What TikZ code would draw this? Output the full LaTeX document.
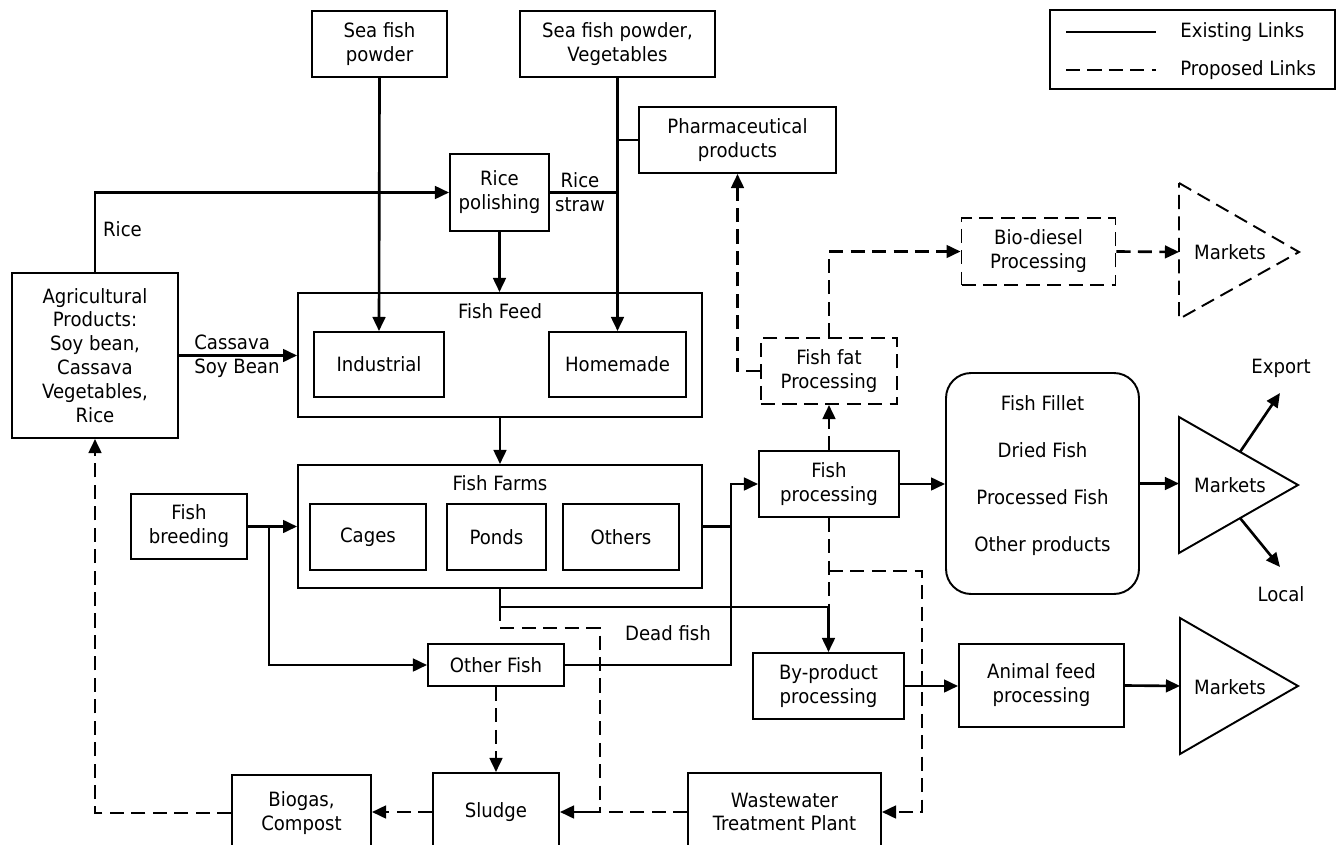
\documentclass[tikz,border=0pt]{standalone}
\usepackage{fontspec}
\setmainfont{DejaVu Sans}[FakeStretch=0.92]
\usetikzlibrary{arrows.meta}
\begin{document}
\begin{tikzpicture}[x=0.02cm,y=-0.02cm,
  font=\fontsize{11.2pt}{13.6pt}\selectfont,
  box/.style={draw, line width=1.1pt, align=center, inner sep=0pt},
  txt/.style={align=center, inner sep=0pt},
  dsh/.style={dash pattern=on 8pt off 4.2pt},
  ln/.style={line width=1.5pt},
  arr/.style={ln, -{Triangle[length=8pt,width=7.2pt]}},
  dln/.style={ln, dsh},
  darr/.style={arr, dsh},
]
\useasboundingbox (0,0) rectangle (1336,845);
\clip (0,0) rectangle (1336,845);

% ---------- boxes ----------
\node[box, minimum width=2.70cm, minimum height=1.32cm] (sfp) at (379.5,44) {Sea fish\\powder};
\node[box, minimum width=3.90cm, minimum height=1.32cm] (sfv) at (617.5,44) {Sea fish powder,\\Vegetables};
\node[box, minimum width=3.94cm, minimum height=1.32cm] (pharma) at (737.5,140) {Pharmaceutical\\products};
\node[box, minimum width=1.98cm, minimum height=1.54cm] (rice) at (499.5,192.5) {Rice\\polishing};
\node[box, minimum width=3.32cm, minimum height=3.30cm] (agri) at (95,355.5) {Agricultural\\Products:\\Soy bean,\\Cassava\\Vegetables,\\Rice};

\node[box, minimum width=8.08cm, minimum height=2.48cm] (feed) at (500,355) {};
\node[txt] (feedlbl) at (500,311) {Fish Feed};
\node[box, minimum width=2.60cm, minimum height=1.30cm] (ind) at (379,364.5) {Industrial};
\node[box, minimum width=2.74cm, minimum height=1.30cm] (home) at (617.5,364.5) {Homemade};

\node[box, minimum width=8.08cm, minimum height=2.46cm] (farms) at (500,526.5) {};
\node[txt] (farmslbl) at (500,483) {Fish Farms};
\node[box, minimum width=2.32cm, minimum height=1.32cm] (cages) at (368,537) {Cages};
\node[box, minimum width=1.98cm, minimum height=1.32cm] (ponds) at (496.5,537) {Ponds};
\node[box, minimum width=2.32cm, minimum height=1.32cm] (others) at (621,537) {Others};

\node[box, minimum width=2.32cm, minimum height=1.30cm] (breed) at (189,526.5) {Fish\\breeding};
\node[box, minimum width=2.72cm, minimum height=0.84cm] (ofish) at (496,665) {Other Fish};

\node[box, minimum width=2.80cm, minimum height=1.32cm] (proc) at (829,484) {Fish\\processing};
\node[box, dsh, minimum width=2.72cm, minimum height=1.32cm] (fat) at (829,371) {Fish fat\\Processing};
\node[box, dsh, minimum width=3.08cm, minimum height=1.34cm] (bio) at (1038.5,251.5) {Bio-diesel\\Processing};

\node[box, rounded corners=0.5cm, minimum width=3.86cm, minimum height=4.42cm] (fillet) at (1042.5,483.5) {};
\node[txt] (fillettxt) at (1042.5,475.5) {Fish Fillet\\[13pt]Dried Fish\\[13pt]Processed Fish\\[13pt]Other products};

\node[box, minimum width=3.02cm, minimum height=1.32cm] (byp) at (828.5,686) {By-product\\processing};
\node[box, minimum width=3.30cm, minimum height=1.66cm] (animal) at (1041.5,685.5) {Animal feed\\processing};

\node[box, minimum width=3.86cm, minimum height=1.56cm] (wwtp) at (784.5,812) {Wastewater\\Treatment Plant};
\node[box, minimum width=2.52cm, minimum height=1.56cm] (sludge) at (496,812) {Sludge};
\node[box, minimum width=2.78cm, minimum height=1.52cm] (biogas) at (301.5,813) {Biogas,\\Compost};

% ---------- markets ----------
\draw[line width=1.1pt, dsh] (1179,183) -- (1299,252) -- (1179,319) -- cycle;
\node[txt] (mk1) at (1230,252) {Markets};
\coordinate (mk1in) at (1179,252);

\draw[line width=1.1pt] (1179,417) -- (1298,485) -- (1179,553) -- cycle;
\node[txt] (mk2) at (1230,485) {Markets};
\coordinate (mk2in) at (1179,483.5);
\coordinate (mk2up) at (1240,452);
\coordinate (mk2dn) at (1240,518);
\coordinate (expend) at (1280,393);
\coordinate (locend) at (1280,567);
\node[txt] (export) at (1281,368) {Export};
\node[txt] (local) at (1281,594) {Local};

\draw[line width=1.1pt] (1180,618) -- (1298,686) -- (1180,754) -- cycle;
\node[txt] (mk3) at (1230,687) {Markets};
\coordinate (mk3in) at (1180,686);

% ---------- legend ----------
\node[draw, line width=1.1pt, minimum width=5.70cm, minimum height=1.58cm] (legend) at (1192.5,49.5) {};
\coordinate (l1a) at (1066,32); \coordinate (l1b) at (1156,32);
\coordinate (l2a) at (1066,70); \coordinate (l2b) at (1156,70);
\draw[ln] (l1a) -- (l1b);
\draw[dln] (l2a) -- (l2b);
\node[txt, anchor=west] (lg1) at (1180,32) {Existing Links};
\node[txt, anchor=west] (lg2) at (1180,70) {Proposed Links};

% ---------- solid connectors ----------
\draw[arr] (sfp.south) -- (ind.north);
\draw[arr] (sfv.south) -- (home.north);
\coordinate (jph) at (617.5,140);
\draw[ln] (jph) -- (pharma.west);
\draw[ln] (rice.east) -- (rice.east -| sfv.south);
\node[txt] (ricestraw) at (580,192) {Rice\\straw};
\draw[arr] (agri.north) -- (agri.north |- rice.west) -- (rice.west);
\node[txt] (ricelbl) at (122.5,229) {Rice};
\draw[arr] (agri.east) -- (agri.east -| feed.west);
\node[txt, anchor=west, align=left] (cassava) at (194,356.5) {Cassava\\Soy Bean};
\draw[arr] (rice.south) -- (rice.south |- feed.north);
\draw[arr] (feed.south) -- (farms.north);
\draw[arr] (breed.east) -- (breed.east -| farms.west);
\coordinate (jbr) at (269,526.5);
\draw[arr] (jbr) -- (jbr |- ofish.west) -- (ofish.west);
\coordinate (jpr) at (731,527);
\draw[arr] (farms.east) -- (jpr |- farms.east) -- (jpr |- proc.west) -- (proc.west);
\draw[ln] (ofish.east) -- (jpr |- ofish.east) -- (jpr |- farms.east);
\node[txt] (deadfish) at (668,633) {Dead fish};
\coordinate (jdf) at (500,607);
\draw[arr] (farms.south) -- (jdf) -- (jdf -| byp.north) -- (byp.north);
\draw[arr] (proc.east) -- (proc.east -| fillet.west);
\draw[arr] (fillet.east) -- (mk2in);
\draw[arr] (mk2up) -- (expend);
\draw[arr] (mk2dn) -- (locend);
\draw[arr] (byp.east) -- (byp.east -| animal.west);
\draw[arr] (animal.east) -- (mk3in);

% ---------- dashed connectors ----------
\draw[darr] (proc.north) -- (fat.south);
\draw[darr] (fat.north) -- (fat.north |- bio.west) -- (bio.west);
\draw[darr] (bio.east) -- (mk1in);
\coordinate (jph2) at (737.5,371);
\draw[darr] (fat.west) -- (jph2) -- (pharma.south);
\draw[dln] (proc.south) -- (proc.south |- jdf);
\coordinate (jww) at (829,571);
\coordinate (jww2) at (922,571);
\draw[darr] (jww) -- (jww2) -- (jww2 |- wwtp.east) -- (wwtp.east);
\coordinate (jfs1) at (500,628);
\coordinate (jfs2) at (600,628);
\coordinate (jsl) at (600,812);
\draw[dln] (jdf) -- (jfs1) -- (jfs2) -- (jsl);
\draw[dln] (wwtp.west) -- (jsl);
\draw[arr] (jsl) -- (sludge.east);
\draw[darr] (ofish.south) -- (sludge.north);
\draw[darr] (sludge.west) -- (sludge.west -| biogas.east);
\draw[darr] (biogas.west) -- (agri.south |- biogas.west) -- (agri.south);
\end{tikzpicture}
\end{document}
